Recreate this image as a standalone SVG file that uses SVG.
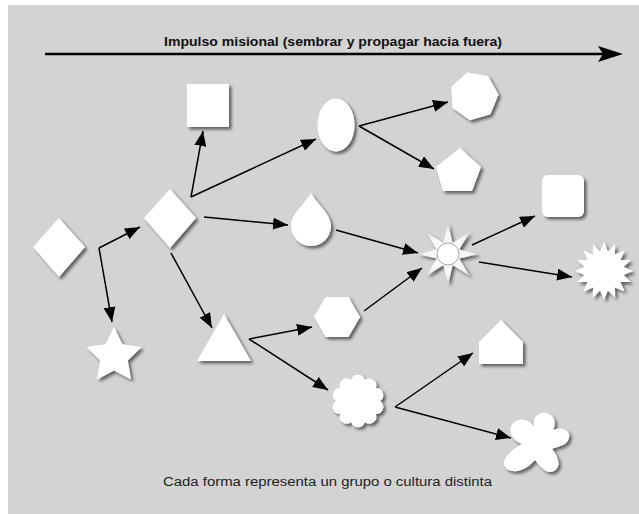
<svg xmlns="http://www.w3.org/2000/svg" width="639" height="514" viewBox="0 0 639 514">
  <defs>
    <filter id="shadow" x="-30%" y="-30%" width="160%" height="160%">
      <feDropShadow dx="2.5" dy="2.5" stdDeviation="1.4" flood-color="#000" flood-opacity="0.55"/>
    </filter>
    <marker id="head" markerUnits="userSpaceOnUse" markerWidth="16" markerHeight="12" refX="15" refY="6" orient="auto">
      <path d="M0,0 L15,6 L0,12 Z" fill="#000"/>
    </marker>
    <radialGradient id="ray" cx="50%" cy="50%" r="50%">
      <stop offset="0" stop-color="#ffffff"/>
      <stop offset="0.7" stop-color="#f4f4f4"/>
      <stop offset="1" stop-color="#d8d8d8"/>
    </radialGradient>
  </defs>
  <style>
    .shape { fill: #ffffff; filter: url(#shadow); }
    .link { stroke: #000; stroke-width: 1.5; fill: none; marker-end: url(#head); }
    .title { font-family: "Liberation Sans", Arial, sans-serif; font-weight: bold; font-size: 13px; fill: #111; }
    .caption { font-family: "Liberation Sans", Arial, sans-serif; font-size: 12.5px; fill: #222; }
  </style>

  <!-- canvas -->
  <rect x="0" y="0" width="639" height="514" fill="#ffffff"/>
  <rect x="8" y="5" width="631" height="509" fill="#d3d3d3"/>

  <!-- heading arrow -->
  <g id="impulse">
    <text class="title" x="333" y="46" text-anchor="middle" textLength="338" lengthAdjust="spacingAndGlyphs">Impulso misional (sembrar y propagar hacia fuera)</text>
    <line x1="45" y1="54" x2="604" y2="54" stroke="#000" stroke-width="2.5"/>
    <path d="M598,46 L623,54 L598,62 L603,54 Z" fill="#000"/>
  </g>

  <!-- connectors -->
  <g id="connectors">
    <line class="link" x1="99" y1="248" x2="140" y2="227"/>
    <line class="link" x1="99" y1="248" x2="112" y2="322"/>
    <line class="link" x1="171" y1="253" x2="212" y2="328"/>
    <line class="link" x1="191" y1="197" x2="203" y2="131"/>
    <line class="link" x1="191" y1="197" x2="316" y2="139"/>
    <line class="link" x1="204" y1="217" x2="288" y2="225"/>
    <line class="link" x1="359" y1="126" x2="448" y2="102"/>
    <line class="link" x1="359" y1="126" x2="434" y2="169"/>
    <line class="link" x1="336" y1="230" x2="418" y2="253"/>
    <line class="link" x1="364" y1="311" x2="422" y2="268"/>
    <line class="link" x1="249" y1="339" x2="312" y2="327"/>
    <line class="link" x1="249" y1="339" x2="328" y2="390"/>
    <line class="link" x1="472" y1="245" x2="535" y2="216"/>
    <line class="link" x1="479" y1="262" x2="572" y2="277"/>
    <line class="link" x1="395" y1="407" x2="473" y2="353"/>
    <line class="link" x1="395" y1="407" x2="511" y2="438"/>
  </g>

  <!-- nodes -->
  <g id="diamond-origin">
    <polygon class="shape" points="59,218 85,247 59,277 33,247"/>
  </g>
  <g id="diamond-seed">
    <polygon class="shape" points="170,189 196,218 170,248 144,218"/>
  </g>
  <g id="star">
    <polygon class="shape" points="114,327 122.5,344.3 141.6,347 127.8,360.5 131,379.5 114,370.5 97,379.5 100.2,360.5 86.4,347 105.5,344.3"/>
  </g>
  <g id="square">
    <rect class="shape" x="187" y="84" width="42" height="43"/>
  </g>
  <g id="triangle">
    <polygon class="shape" points="224,314 251,361 197,361"/>
  </g>
  <g id="ellipse">
    <ellipse class="shape" cx="336" cy="125" rx="18.5" ry="26.5"/>
  </g>
  <g id="drop">
    <path class="shape" d="M311,193 C318,205 331,214 331,226 A20,20 0 0 1 291,226 C291,214 304,205 311,193 Z"/>
  </g>
  <g id="hexagon">
    <polygon class="shape" points="314,317 325.5,297 348.5,297 360,317 348.5,337 325.5,337"/>
  </g>
  <g id="cloud">
    <path class="shape" d="M380,401 A7,7 0 0 1 375.8,413.9 A7,7 0 0 1 364.8,421.9 A7,7 0 0 1 351.2,421.9 A7,7 0 0 1 340.2,413.9 A7,7 0 0 1 336,401 A7,7 0 0 1 340.2,388.1 A7,7 0 0 1 351.2,380.1 A7,7 0 0 1 364.8,380.1 A7,7 0 0 1 375.8,388.1 A7,7 0 0 1 380,401 Z"/>
  </g>
  <g id="heptagon">
    <polygon class="shape" points="470,120.2 452.6,107.9 451.3,86.7 467.2,72.5 488.1,75.9 498.5,94.6 490.4,114.2"/>
  </g>
  <g id="pentagon">
    <polygon class="shape" points="460,148 481,167 472,191 443,191 436,167"/>
  </g>
  <g id="sun">
    <polygon fill="url(#ray)" filter="url(#shadow)" points="448,223 452.6,242.9 469.9,232.1 459.1,249.4 479,254 459.1,258.6 469.9,275.9 452.6,265.1 448,285 443.4,265.1 426.1,275.9 436.9,258.6 417,254 436.9,249.4 426.1,232.1 443.4,242.9"/>
    <circle cx="448" cy="254" r="11" fill="#ffffff" stroke="#a8a8a8" stroke-width="1"/>
  </g>
  <g id="rounded-square">
    <rect class="shape" x="542" y="175" width="42" height="42" rx="6" ry="6"/>
  </g>
  <g id="burst">
    <polygon class="shape" points="633,271 623.6,274.9 630.8,282.1 620.6,282.1 624.5,291.5 615,287.6 615.1,297.8 607.9,290.6 604,300 600.1,290.6 592.9,297.8 593,287.6 583.5,291.5 587.4,282.1 577.2,282.1 584.4,274.9 575,271 584.4,267.1 577.2,259.9 587.4,259.9 583.5,250.5 593,254.4 592.9,244.2 600.1,251.4 604,242 607.9,251.4 615.1,244.2 615,254.4 624.5,250.5 620.6,259.9 630.8,259.9 623.6,267.1"/>
  </g>
  <g id="house">
    <polygon class="shape" points="501,320 523,342 523,364 479,364 479,342"/>
  </g>
  <g id="blob">
    <path class="shape" d="M522,444 C510,440 506,426 516,421 C524,417 530,422 534,426 C533,417 538,412 546,413 C556,415 556,425 553,430 C561,427 571,429 569,438 C567,446 558,446 552,449 C558,456 562,467 554,471 C546,475 540,466 535,460 C528,468 517,475 507,469 C499,462 508,452 522,444 Z"/>
  </g>

  <!-- caption -->
  <g id="caption">
    <text class="caption" x="327.5" y="486" text-anchor="middle" textLength="329" lengthAdjust="spacingAndGlyphs">Cada forma representa un grupo o cultura distinta</text>
  </g>
</svg>
